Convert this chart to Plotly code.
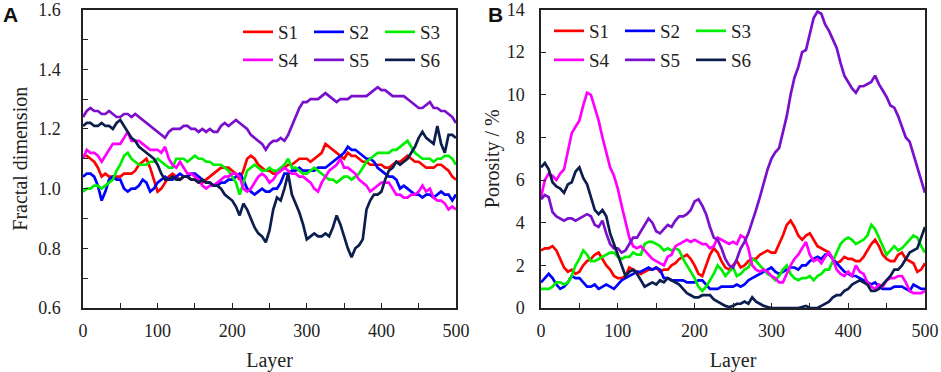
import plotly.graph_objects as go

layers = list(range(0, 501, 5))
series_names = ["S1", "S2", "S3", "S4", "S5", "S6"]
colors = ["#FF0000", "#0000FF", "#00EE00", "#FF00FF", "#7A10CC", "#0B1E4E"]

# Panel A: fractal dimension
fd_S1 = [1.11,1.11,1.10,1.09,1.07,1.04,1.05,1.04,1.04,1.04,1.04,1.05,1.05,1.05,1.06,1.08,1.09,1.10,1.07,1.03,
         0.99,1.00,1.02,1.04,1.05,1.04,1.03,1.04,1.04,1.03,1.03,1.02,1.02,1.03,1.04,1.05,1.06,1.07,1.07,1.07,
         1.06,1.05,1.03,1.06,1.10,1.11,1.10,1.08,1.07,1.06,1.06,1.05,1.05,1.06,1.07,1.08,1.08,1.09,1.10,1.10,
         1.10,1.09,1.10,1.11,1.12,1.15,1.14,1.13,1.12,1.11,1.10,1.12,1.11,1.11,1.10,1.09,1.09,1.08,1.08,1.08,
         1.08,1.07,1.07,1.08,1.09,1.09,1.10,1.11,1.10,1.09,1.09,1.08,1.07,1.07,1.07,1.08,1.08,1.07,1.06,1.04,1.03]
fd_S2 = [1.04,1.05,1.05,1.04,1.01,0.96,0.99,1.03,1.04,1.03,1.03,1.00,0.99,1.00,1.00,1.01,1.03,1.02,0.99,1.00,
         1.02,1.03,1.04,1.03,1.03,1.04,1.05,1.04,1.04,1.05,1.05,1.04,1.03,1.02,1.02,1.01,1.01,1.02,1.02,1.03,
         1.03,1.04,1.05,1.03,1.00,0.99,0.98,0.99,1.00,0.99,0.99,1.00,1.00,1.02,1.05,1.05,1.06,1.06,1.07,1.06,
         1.06,1.06,1.06,1.07,1.07,1.07,1.08,1.09,1.10,1.11,1.12,1.14,1.13,1.13,1.12,1.11,1.10,1.10,1.09,1.07,
         1.06,1.05,1.04,1.04,1.03,1.00,1.01,1.00,0.99,0.98,0.98,0.97,0.98,0.98,0.97,0.98,0.99,0.98,0.98,0.96,0.98]
fd_S3 = [0.99,1.00,1.00,1.01,1.01,1.00,1.01,1.02,1.03,1.06,1.08,1.11,1.12,1.10,1.09,1.08,1.08,1.08,1.09,1.09,
         1.10,1.09,1.08,1.07,1.07,1.10,1.10,1.10,1.09,1.10,1.11,1.10,1.10,1.09,1.09,1.08,1.08,1.08,1.07,1.06,
         1.04,1.02,0.98,1.02,1.06,1.07,1.08,1.07,1.06,1.06,1.07,1.06,1.06,1.07,1.08,1.10,1.07,1.07,1.06,1.05,
         1.05,1.06,1.07,1.06,1.05,1.04,1.03,1.03,1.02,1.03,1.04,1.04,1.03,1.04,1.05,1.07,1.09,1.10,1.11,1.12,
         1.12,1.12,1.12,1.13,1.13,1.14,1.15,1.16,1.14,1.12,1.11,1.10,1.10,1.10,1.09,1.10,1.10,1.11,1.11,1.10,1.08]
fd_S4 = [1.10,1.13,1.12,1.12,1.11,1.09,1.11,1.13,1.15,1.15,1.15,1.17,1.19,1.16,1.16,1.16,1.15,1.14,1.13,1.13,
         1.13,1.12,1.14,1.10,1.08,1.07,1.09,1.07,1.05,1.05,1.04,1.03,1.01,1.00,1.01,1.01,1.02,1.03,1.04,1.04,
         1.05,1.05,1.04,1.00,0.99,1.00,1.02,1.04,1.05,1.04,1.02,1.03,1.05,1.06,1.07,1.06,1.05,1.05,1.04,1.04,
         1.03,1.02,1.00,0.99,1.02,1.04,1.06,1.07,1.08,1.10,1.07,1.07,1.06,1.05,1.03,1.02,1.01,0.99,1.00,1.01,
         1.02,1.02,1.02,1.00,0.98,0.98,0.97,0.97,0.98,0.98,0.99,1.01,0.99,1.00,0.97,0.96,0.96,0.95,0.93,0.94,0.93]
fd_S5 = [1.24,1.26,1.27,1.26,1.26,1.25,1.25,1.26,1.25,1.24,1.24,1.25,1.25,1.24,1.25,1.24,1.23,1.22,1.21,1.20,
         1.19,1.18,1.17,1.19,1.20,1.20,1.20,1.21,1.21,1.20,1.20,1.19,1.20,1.19,1.20,1.19,1.19,1.21,1.22,1.21,
         1.22,1.23,1.22,1.21,1.20,1.18,1.17,1.16,1.15,1.13,1.15,1.16,1.16,1.17,1.16,1.18,1.21,1.24,1.27,1.29,
         1.29,1.30,1.30,1.30,1.31,1.32,1.31,1.30,1.29,1.30,1.30,1.30,1.31,1.31,1.31,1.31,1.31,1.32,1.33,1.34,
         1.33,1.33,1.32,1.31,1.31,1.31,1.31,1.30,1.29,1.28,1.27,1.27,1.28,1.29,1.27,1.27,1.26,1.26,1.25,1.24,1.22]
fd_S6 = [1.21,1.22,1.22,1.21,1.21,1.22,1.21,1.21,1.20,1.22,1.23,1.21,1.19,1.17,1.16,1.14,1.13,1.12,1.11,1.10,
         1.08,1.05,1.03,1.03,1.04,1.03,1.03,1.04,1.04,1.03,1.03,1.02,1.03,1.02,1.02,1.01,1.01,1.00,0.98,0.97,
         0.96,0.94,0.91,0.95,0.93,0.90,0.87,0.85,0.84,0.82,0.86,0.93,0.97,0.96,1.00,1.05,0.98,0.95,0.92,0.88,
         0.83,0.84,0.85,0.84,0.84,0.85,0.84,0.87,0.91,0.88,0.84,0.80,0.77,0.80,0.81,0.83,0.93,0.96,0.98,0.98,
         0.99,1.03,1.06,1.07,1.09,1.08,1.09,1.10,1.12,1.14,1.17,1.19,1.17,1.16,1.15,1.21,1.15,1.12,1.18,1.18,1.17]

# Panel B: porosity (%)
po_S1 = [2.7,2.8,2.8,2.9,2.7,2.3,1.9,1.7,1.8,1.6,1.7,2.0,2.2,2.3,2.5,2.6,2.3,2.0,1.8,1.5,
         1.4,1.4,1.5,1.9,1.8,1.7,1.6,1.7,1.8,1.8,1.9,1.7,1.8,1.8,2.0,2.1,2.3,2.4,2.5,2.3,
         2.0,1.6,1.5,2.0,2.5,2.8,2.6,2.2,1.9,1.8,2.0,2.2,1.9,2.0,2.2,2.3,2.3,2.5,2.6,2.7,
         2.6,2.6,3.0,3.4,3.9,4.1,3.8,3.4,3.2,3.4,3.5,3.2,2.9,2.8,2.7,2.6,2.3,2.1,2.2,2.4,
         2.3,2.3,2.2,2.2,2.4,2.7,3.0,3.2,2.9,2.5,2.3,2.2,2.2,2.5,2.6,2.3,2.2,2.1,1.7,1.8,2.1]
po_S2 = [1.2,1.4,1.6,1.4,1.1,0.9,1.0,1.2,1.5,1.4,1.4,1.2,1.0,1.0,1.1,0.9,1.0,1.1,1.0,0.9,
         1.1,1.3,1.4,1.5,1.6,1.7,1.7,1.8,1.9,1.8,1.9,1.8,1.4,1.4,1.3,1.3,1.3,1.3,1.2,1.2,
         1.2,1.3,1.3,1.1,0.9,0.9,0.9,1.0,1.0,1.0,1.0,1.1,1.0,1.1,1.3,1.4,1.5,1.6,1.7,1.8,
         1.9,1.7,1.6,1.7,1.8,1.9,1.9,1.8,2.0,2.0,2.2,2.3,2.4,2.3,2.5,2.5,2.3,2.1,1.9,1.7,
         1.6,1.5,1.5,1.4,1.3,1.2,1.1,1.2,1.0,0.9,0.9,0.9,1.0,1.0,1.0,0.9,0.8,1.1,1.0,0.9,0.9]
po_S3 = [0.9,0.9,0.9,1.0,1.2,1.2,1.1,1.2,1.5,2.0,2.3,2.7,2.5,2.2,2.2,2.3,2.4,2.5,2.6,2.6,
         2.4,2.3,2.4,2.4,2.6,2.5,2.5,3.0,3.1,3.1,3.0,2.9,2.7,2.8,2.7,2.8,2.7,2.3,2.0,1.7,
         1.4,1.0,0.8,1.0,1.3,1.6,2.0,1.8,1.5,1.7,1.9,1.5,1.6,1.8,1.9,2.3,2.2,2.0,1.8,1.6,
         1.5,1.3,1.5,1.8,2.0,1.6,1.4,1.3,1.4,1.4,1.5,1.3,1.5,1.6,1.8,1.8,2.2,2.6,3.0,3.2,
         3.3,3.2,3.0,3.1,3.2,3.4,3.9,3.7,3.3,2.9,2.5,2.7,2.9,2.7,2.8,3.0,3.2,3.4,3.3,2.9,2.6]
po_S4 = [5.2,6.0,6.3,6.2,6.0,6.3,6.5,7.3,8.2,8.5,8.8,9.5,10.1,10.0,9.4,8.8,8.0,7.3,6.6,6.2,
         5.6,4.8,4.0,3.3,2.9,2.8,2.9,2.7,2.5,2.3,2.2,2.1,2.0,2.4,2.5,2.9,3.0,3.1,3.2,3.1,
         3.2,3.1,3.0,3.0,2.8,2.9,3.3,3.2,3.1,3.0,3.1,3.0,3.4,3.3,2.8,2.0,1.8,1.7,1.8,1.7,
         1.5,1.4,1.2,1.2,1.6,2.0,2.3,2.5,2.8,3.1,2.5,2.2,2.3,2.1,2.4,2.6,2.3,1.8,1.6,1.5,
         1.7,1.5,2.0,1.7,1.6,1.2,1.0,0.9,1.1,1.0,1.3,1.4,1.4,1.5,1.5,1.2,0.8,0.7,0.7,0.7,0.8]
po_S5 = [5.1,5.3,5.2,4.5,4.3,4.2,4.1,4.2,4.2,4.1,4.2,4.3,4.4,4.3,3.9,3.8,4.1,3.5,3.0,2.8,
         2.8,2.6,2.7,3.0,3.3,3.3,3.6,3.9,4.2,4.0,3.6,3.5,3.7,3.9,3.8,4.1,4.3,4.3,4.4,4.6,
         5.0,5.1,4.8,4.4,3.8,3.3,3.2,2.8,2.3,2.0,1.9,2.3,2.8,3.1,3.5,4.0,4.6,5.2,5.9,6.5,
         7.0,7.3,7.5,8.3,9.0,10.0,10.8,11.3,12.0,12.1,12.8,13.6,13.9,13.8,13.3,13.0,12.6,12.2,11.5,10.9,
         10.6,10.3,10.1,10.4,10.4,10.5,10.6,10.9,10.5,10.2,9.9,9.5,9.4,9.0,8.5,8.0,7.8,7.2,6.5,5.9,5.4]
po_S6 = [6.6,6.8,6.5,5.9,5.7,5.6,5.4,5.8,5.9,6.4,6.6,6.1,5.8,5.2,4.6,4.4,4.6,4.3,3.5,3.0,
         2.5,2.0,1.5,1.7,1.8,1.6,1.3,1.0,1.1,1.2,1.1,1.3,1.2,1.4,1.3,1.2,1.1,0.9,0.7,0.6,
         0.5,0.5,0.6,0.6,0.6,0.4,0.3,0.2,0.1,0.05,0.1,0.2,0.2,0.3,0.2,0.5,0.3,0.2,0.1,0.05,
         0.0,0.0,0.0,0.0,0.0,0.0,0.0,0.0,0.05,0.1,0.0,0.0,0.0,0.1,0.2,0.3,0.5,0.6,0.6,0.8,
         0.9,1.1,1.2,1.3,1.2,1.1,0.8,0.8,0.9,1.1,1.3,1.5,1.8,1.8,2.0,2.3,2.6,2.7,2.8,3.3,3.8]

fd_series = [fd_S1, fd_S2, fd_S3, fd_S4, fd_S5, fd_S6]
po_series = [po_S1, po_S2, po_S3, po_S4, po_S5, po_S6]

SERIF = "Liberation Serif"
fig = go.Figure()

for i, (name, ys) in enumerate(zip(series_names, fd_series)):
    fig.add_trace(go.Scatter(x=layers, y=ys, name=name, mode="lines",
                             line=dict(color=colors[i], width=2.7),
                             xaxis="x", yaxis="y",
                             legend="legend" if i < 3 else "legend2"))
for i, (name, ys) in enumerate(zip(series_names, po_series)):
    fig.add_trace(go.Scatter(x=layers, y=ys, name=name, mode="lines",
                             line=dict(color=colors[i], width=2.7),
                             xaxis="x2", yaxis="y2",
                             legend="legend3" if i < 3 else "legend4"))

W, H = 941, 372
ydom = [1 - 308 / H, 1 - 9.5 / H]

axis_common = dict(showline=True, mirror=True, linecolor="#222", linewidth=1.5,
                   showgrid=False, zeroline=False, ticks="inside", ticklen=5,
                   tickcolor="#222", ticklabeloverflow="allow", automargin=False,
                   tickfont=dict(family=SERIF, size=18, color="#222"),
                   title_font=dict(family=SERIF, size=20, color="#222"))

fig.update_layout(
    width=W, height=H,
    margin=dict(l=0, r=0, t=0, b=0),
    paper_bgcolor="white", plot_bgcolor="white",
    xaxis=dict(domain=[83 / W, 456 / W], range=[0, 500], dtick=100, anchor="y",
               minor=dict(dtick=50, ticks="inside", ticklen=5, tickcolor="#222"),
               title=dict(text="Layer", standoff=19), ticklabelstandoff=6, **axis_common),
    yaxis=dict(domain=ydom, range=[0.6, 1.6001], dtick=0.2, tickformat=".1f", anchor="x",
               minor=dict(dtick=0.1, ticks="inside", ticklen=5, tickcolor="#222"),
               title=dict(text="Fractal dimension", standoff=5), ticklabelstandoff=17, **axis_common),
    xaxis2=dict(domain=[541 / W, 925 / W], range=[0, 500], dtick=100, anchor="y2",
                minor=dict(dtick=50, ticks="inside", ticklen=5, tickcolor="#222"),
                title=dict(text="Layer", standoff=19), ticklabelstandoff=6, **axis_common),
    yaxis2=dict(domain=ydom, range=[0, 14.001], dtick=2, anchor="x2",
                title=dict(text="Porosity / %", standoff=2), ticklabelstandoff=11, **axis_common),
    showlegend=True,
)

leg_common = dict(orientation="h", bgcolor="rgba(0,0,0,0)", xanchor="left", yanchor="middle",
                  font=dict(family=SERIF, size=19, color="#222"), entrywidth=26,
                  entrywidthmode="pixels", tracegroupgap=0)
fig.update_layout(
    legend=dict(x=238 / W, y=1 - 32 / H, **leg_common),
    legend2=dict(x=238 / W, y=1 - 60 / H, **leg_common),
    legend3=dict(x=549 / W, y=1 - 31 / H, **leg_common),
    legend4=dict(x=549 / W, y=1 - 60 / H, **leg_common),
)

fig.add_annotation(text="<b>A</b>", x=1 / W, y=1 - 1 / H, xref="paper", yref="paper",
                   xanchor="left", yanchor="top", showarrow=False,
                   font=dict(family="Liberation Sans", size=21, color="#111"))
fig.add_annotation(text="<b>B</b>", x=486 / W, y=1 - 1 / H, xref="paper", yref="paper",
                   xanchor="left", yanchor="top", showarrow=False,
                   font=dict(family="Liberation Sans", size=21, color="#111"))

fig.write_html("out.html", config={"displayModeBar": False},
               post_script="document.body.style.margin='0';")
